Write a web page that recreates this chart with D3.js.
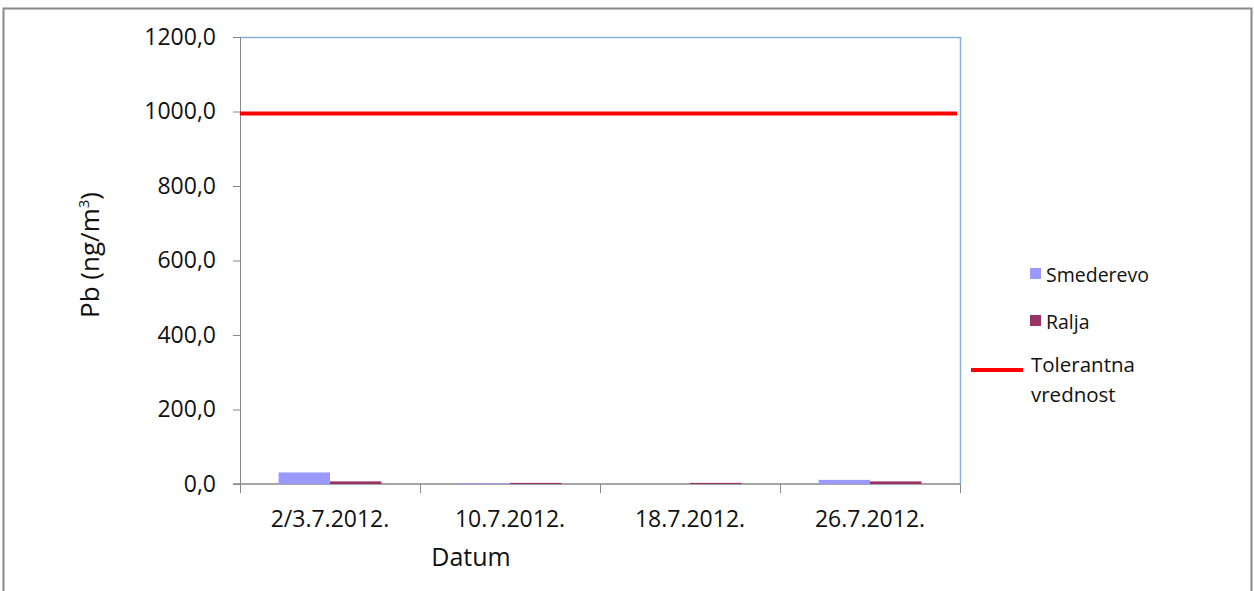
<!DOCTYPE html>
<html>
<head>
<meta charset="utf-8">
<script src="https://cdn.jsdelivr.net/npm/d3@7"></script>
<style>
  body { margin: 0; background: #fff; }
  svg text { font-family: "Open Sans", "Noto Sans", sans-serif; fill: #111; }
</style>
</head>
<body>
<svg id="chart" width="1254" height="591"></svg>
<script>
var dates = ["2/3.7.2012.", "10.7.2012.", "18.7.2012.", "26.7.2012."];
var smederevo = [31, 2, 0, 11];
var ralja = [7, 3, 3, 7];
var tolerantna = 1000;
var yTicks = [0, 200, 400, 600, 800, 1000, 1200];

var svg = d3.select("#chart");

// outer frame
svg.append("path")
    .attr("d", "M3.5,591 V8.5 H1251.5 V591")
    .style("fill", "none")
    .style("stroke", "#888")
    .style("stroke-width", 2);

var plotLeft = 240, plotRight = 960, plotTop = 37, plotBottom = 484;

var x = d3.scaleBand()
    .domain(dates)
    .range([plotLeft, plotRight]);

var xs = d3.scaleBand()
    .domain(["Smederevo", "Ralja"])
    .range([0, x.bandwidth()])
    .paddingInner(0)
    .paddingOuter(0.75);

var y = d3.scaleLinear()
    .domain([0, 1200])
    .range([plotBottom, plotTop]);

// plot area border (top / right)
svg.append("path")
    .attr("d", "M" + plotLeft + "," + (plotTop + 0.5) + " H" + (plotRight + 0.5) + " V" + plotBottom)
    .style("fill", "none")
    .style("stroke", "#8db0d8")
    .style("stroke-width", 1.5);

// y axis
var yAxis = svg.append("g")
    .attr("transform", "translate(" + plotLeft + ",0)")
    .call(d3.axisLeft(y).tickValues(yTicks).tickSize(7).tickPadding(17)
        .tickFormat(function (d) { return d3.format(".1f")(d).replace(".", ","); }));
yAxis.select(".domain").style("stroke", "#888").attr("d", "M0.5," + plotTop + "V" + plotBottom);
yAxis.selectAll(".tick line").style("stroke", "#888");
yAxis.selectAll(".tick text").style("font-size", "23px").style("fill", "#111");

// x axis
var xAxis = svg.append("g")
    .attr("transform", "translate(0," + plotBottom + ")")
    .call(d3.axisBottom(x).tickSize(0).tickPadding(27));
xAxis.select(".domain").style("stroke", "#888").style("stroke-width", 1.5)
    .attr("d", "M" + (plotLeft - 7) + ",0H" + plotRight);
xAxis.selectAll(".tick text").style("font-size", "23px").style("fill", "#111");

svg.selectAll(".xtick")
    .data(dates.concat(["end"]))
    .join("line")
    .attr("class", "xtick")
    .attr("x1", function (d, i) { return plotLeft + i * x.step() + 0.5; })
    .attr("x2", function (d, i) { return plotLeft + i * x.step() + 0.5; })
    .attr("y1", plotBottom)
    .attr("y2", plotBottom + 9)
    .style("stroke", "#888");

// bars
var series = [
    { name: "Smederevo", values: smederevo, color: "#9999ff" },
    { name: "Ralja", values: ralja, color: "#993366" }
];

series.forEach(function (s) {
    svg.selectAll(".bar_" + s.name)
        .data(s.values)
        .join("rect")
        .attr("class", "bar_" + s.name)
        .attr("x", function (d, i) { return x(dates[i]) + xs(s.name); })
        .attr("width", xs.bandwidth())
        .attr("y", function (d) { return y(d); })
        .attr("height", function (d) { return plotBottom - y(d); })
        .style("fill", s.color);
});

// tolerance line
svg.append("line")
    .attr("x1", plotLeft)
    .attr("x2", plotRight - 3)
    .attr("y1", y(tolerantna) + 2)
    .attr("y2", y(tolerantna) + 2)
    .style("stroke", "#ff0000")
    .style("stroke-width", 4);

// axis titles
svg.append("text")
    .attr("transform", "translate(99,255) rotate(-90)")
    .attr("text-anchor", "middle")
    .style("font-size", "26px")
    .html("Pb (ng/m<tspan dy='-10' font-size='15px'>3</tspan><tspan dy='10'>)</tspan>");

svg.append("text")
    .attr("x", 471)
    .attr("y", 566)
    .attr("text-anchor", "middle")
    .style("font-size", "25px")
    .text("Datum");

// legend
var legend = svg.append("g");
legend.append("rect").attr("x", 1030).attr("y", 268).attr("width", 11).attr("height", 11).style("fill", "#9999ff");
legend.append("text").attr("x", 1046).attr("y", 282).style("font-size", "19.5px").text("Smederevo");
legend.append("rect").attr("x", 1030).attr("y", 315).attr("width", 11).attr("height", 11).style("fill", "#993366");
legend.append("text").attr("x", 1046).attr("y", 329).style("font-size", "19.5px").text("Ralja");
legend.append("line").attr("x1", 971).attr("x2", 1023).attr("y1", 370).attr("y2", 370)
    .style("stroke", "#ff0000").style("stroke-width", 4);
legend.append("text").attr("x", 1031).attr("y", 372).style("font-size", "20.5px").text("Tolerantna");
legend.append("text").attr("x", 1031).attr("y", 402).style("font-size", "20.5px").text("vrednost");
</script>
</body>
</html>
